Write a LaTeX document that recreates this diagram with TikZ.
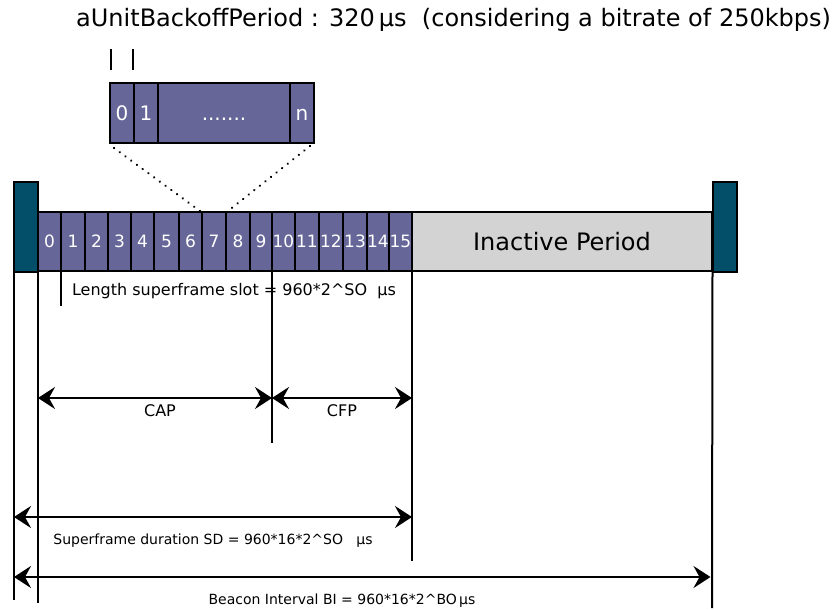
\documentclass[tikz,border=0pt]{standalone}
\usepackage{fontspec}
\setmainfont{DejaVu Sans}
\usetikzlibrary{arrows.meta}
\definecolor{slotc}{RGB}{102,102,153}
\definecolor{beac}{RGB}{3,79,105}
\definecolor{inact}{RGB}{211,211,211}
\begin{document}
\begin{tikzpicture}[x=1pt,y=-1pt,
  box/.style={draw=black,line width=2pt,inner sep=0pt,outer sep=0pt},
  slotbox/.style={box,fill=slotc,text=white,font=\fontsize{17}{20}\selectfont,text height=12.4pt,text depth=0pt},
  zoombox/.style={slotbox,minimum height=60pt,font=\fontsize{20}{24}\selectfont,text height=14.6pt,text depth=0pt},
  beaconbox/.style={box,fill=beac,minimum width=24pt,minimum height=90pt},
  vline/.style={line width=2pt},
  dim/.style={line width=2pt,{Stealth[length=17pt,width=22pt,inset=6pt]}-{Stealth[length=17pt,width=22pt,inset=6pt]}},
  dots/.style={line width=2.4pt,dash pattern=on 0.1pt off 7pt,line cap=round},
  lbl/.style={inner sep=0pt,font=\fontsize{16}{19}\selectfont}
]
\useasboundingbox (0,0) rectangle (833,610);
\fill[white] (0,0) rectangle (833,610);

% title
\node[anchor=west,inner sep=0pt,font=\fontsize{24}{28}\selectfont] (title) at (76,20)
  {aUnitBackoffPeriod : 320\,µs\ \ (considering a bitrate of 250kbps)};

% ticks
\draw[vline] (111,49) -- (111,70);
\draw[vline] (133,49) -- (133,70);

% zoom box
\node[zoombox,minimum width=24pt] (z0) at (122,113) {0};
\node[zoombox,minimum width=24pt] (z1) at (146,113) {1};
\node[zoombox,minimum width=132pt] (zd) at (224,113) {.......};
\node[zoombox,minimum width=24pt] (zn) at (302,113) {n};

% slots
\foreach \i/\a/\b in {0/38/61,1/61/85,2/85/108,3/108/131,4/131/154,5/154/179,6/179/202,7/202/226,8/226/250,9/250/272,10/272/295,11/295/319,12/319/343,13/343/367,14/367/389,15/389/412}
  \node[slotbox,minimum width=(\b-\a)*1pt,minimum height=59pt] (s\i) at ({(\a+\b)/2},241.5) {\i};

% inactive
\node[box,fill=inact,minimum width=300pt,minimum height=59pt,font=\fontsize{24}{28}\selectfont] (inact) at (562,241.5) {Inactive Period};

% beacons
\node[beaconbox] (b1) at (26,227) {};
\node[beaconbox] (b2) at (724.5,227) {};

% dotted lines
\draw[dots] ([shift={(4,5)}]z0.south west) -- ([shift={(-2,-1)}]s6.north east);
\draw[dots] ([shift={(-4,3)}]zn.south east) -- ([shift={(2,-1)}]s7.north east);

% vertical lines
\coordinate (e0) at (14,600);
\coordinate (e1) at (38,603);
\coordinate (e2) at (61,306);
\coordinate (e3) at (272,443);
\coordinate (e4) at (412,561);
\coordinate (e5) at (712,608);
\draw[vline] (b1.south west) -- (e0);
\draw[vline] (s0.south west) -- (e1);
\draw[vline] (s0.south east) -- (e2);
\draw[vline] (s9.south east) -- (e3);
\draw[vline] (s15.south east) -- (e4);
\draw[vline] (b2.south west) -- (e5);

% labels
\node[lbl] (slotlbl) at (234,291) {Length superframe slot = 960*2\textasciicircum SO\ \ µs};

\coordinate (capy) at (0,398);
\draw[dim] (s0.south west |- capy) -- (s9.south east |- capy);
\draw[dim] (s9.south east |- capy) -- (s15.south east |- capy);
\node[lbl] (cap) at (160,411) {CAP};
\node[lbl] (cfp) at (342,411) {CFP};

\coordinate (sdy) at (0,517);
\draw[dim] (b1.south west |- sdy) -- (s15.south east |- sdy);
\node[lbl,font=\fontsize{14}{17}\selectfont] (sdl) at (213,541) {Superframe duration SD = 960*16*2\textasciicircum SO\ \ \ µs};

\coordinate (biy) at (0,577);
\draw[dim] (b1.south west |- biy) -- ([xshift=-2pt]b2.south west |- biy);
\node[lbl,font=\fontsize{14}{17}\selectfont] (bil) at (342,601) {Beacon Interval BI = 960*16*2\textasciicircum BO\,µs};
\end{tikzpicture}
\end{document}
